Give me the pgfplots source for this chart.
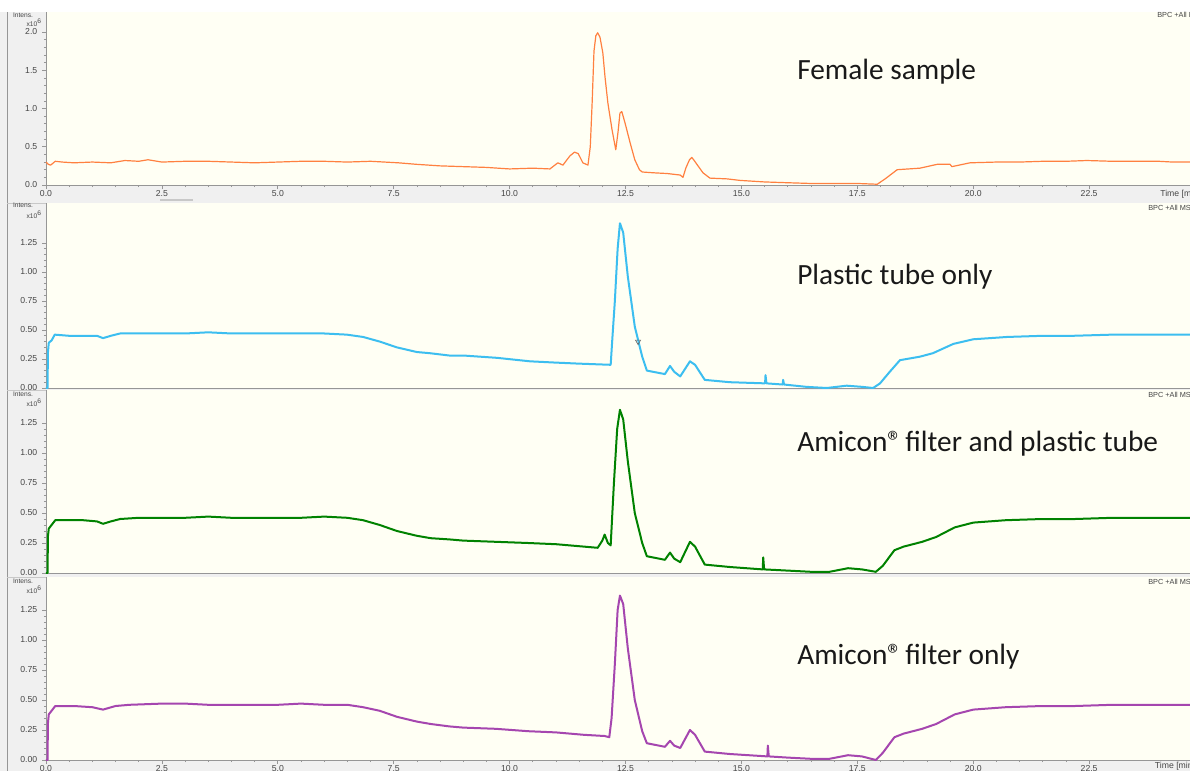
\documentclass[border=0pt]{standalone}
\usepackage{pgfplots}
\pgfplotsset{compat=1.18}
\usepackage{fontspec}
\setmainfont{Carlito}
\newfontfamily\tickfont{Liberation Sans}

\definecolor{cream}{RGB}{255,255,244}
\definecolor{margin}{RGB}{240,240,240}
\definecolor{axgray}{RGB}{150,150,150}
\definecolor{sepgray}{RGB}{200,200,200}
\definecolor{tickgray}{RGB}{70,70,70}
\definecolor{corange}{RGB}{255,128,64}
\definecolor{cblue}{RGB}{60,190,240}
\definecolor{cgreen}{RGB}{0,130,0}
\definecolor{cpurple}{RGB}{165,70,175}

\pgfplotsset{
  panel/.style={
    scale only axis, width=858pt, xmin=0, xmax=24.676, ymin=0,
    axis x line*=bottom, axis y line*=left,
    axis line style={draw=axgray, line width=0.6pt, -},
    axis background/.style={fill=cream},
    tick style={draw=axgray, line width=0.5pt},
    tick align=outside,
    major tick length=3pt, minor tick length=1.6pt,
    ticklabel style={font=\fontsize{6.5}{7}\selectfont\tickfont, text=tickgray},
    /pgf/number format/assume math mode=true,
    yticklabel style={/pgf/number format/fixed, /pgf/number format/fixed zerofill},
    xticklabel style={inner sep=0.8pt, /pgf/number format/fixed, /pgf/number format/fixed zerofill, /pgf/number format/precision=1},
    minor y tick num=4,
    anchor=south west,
  },
  small/.style={ytick={0,0.25,...,1.25}, yticklabel style={/pgf/number format/precision=2}, ymax=1.525},
}

\begin{document}
\begin{tikzpicture}
\useasboundingbox (0,0) rectangle (892.5pt,-578.25pt);
\clip (0,0) rectangle (892.5pt,-578.25pt);
\fill[white] (0,0) rectangle (892.5pt,-578.25pt);
\fill[margin] (0,-9pt) rectangle (892.5pt,-578.25pt);
\draw[axgray, line width=0.5pt] (5.6pt,-9pt) -- (5.6pt,-578.25pt);
\draw[sepgray, line width=0.6pt] (5.6pt,-152.25pt) -- (892.5pt,-152.25pt);
\draw[sepgray, line width=0.6pt] (5.6pt,-292.5pt) -- (892.5pt,-292.5pt);
\draw[sepgray, line width=0.6pt] (5.6pt,-432.75pt) -- (892.5pt,-432.75pt);
\draw[sepgray, line width=1.2pt] (120pt,-150pt) -- (145pt,-150pt);

% Panel 1: Female sample
\begin{axis}[panel, at={(34.5pt,-138.75pt)}, height=129.75pt, ymax=2.2614,
  ytick={0,0.5,...,2}, yticklabel style={/pgf/number format/precision=1},
  xtick={0,2.5,...,22.5}, minor x tick num=4]
\addplot[corange, line width=0.9pt, line join=round] table {
0.00 0.30
0.05 0.27
0.10 0.26
0.20 0.31
0.35 0.30
0.60 0.29
1.00 0.30
1.40 0.29
1.70 0.32
2.00 0.31
2.20 0.33
2.50 0.30
3.00 0.31
3.50 0.31
4.00 0.30
4.50 0.29
5.00 0.30
5.50 0.31
6.00 0.31
6.50 0.30
7.00 0.31
7.30 0.30
7.60 0.29
8.00 0.27
8.50 0.25
9.00 0.24
9.50 0.23
10.00 0.21
10.50 0.22
10.87 0.21
11.04 0.29
11.15 0.26
11.30 0.38
11.40 0.43
11.48 0.41
11.58 0.29
11.69 0.26
11.74 0.50
11.78 1.07
11.82 1.75
11.86 1.95
11.90 1.99
11.95 1.93
12.01 1.73
12.06 1.40
12.12 1.07
12.21 0.72
12.29 0.46
12.34 0.70
12.38 0.94
12.42 0.96
12.49 0.81
12.60 0.55
12.70 0.33
12.80 0.20
12.86 0.17
13.09 0.16
13.40 0.15
13.68 0.13
13.74 0.10
13.80 0.22
13.88 0.33
13.93 0.36
13.97 0.33
14.04 0.27
14.17 0.16
14.32 0.09
14.69 0.08
14.97 0.06
15.50 0.04
15.98 0.03
16.50 0.02
17.00 0.02
17.50 0.02
17.93 0.01
18.10 0.08
18.36 0.20
18.85 0.22
19.22 0.27
19.50 0.27
19.54 0.24
19.93 0.29
20.50 0.30
21.00 0.30
21.50 0.31
22.00 0.31
22.45 0.32
23.00 0.31
23.50 0.31
24.00 0.31
24.30 0.30
24.70 0.30
};
\end{axis}

% Panel 2: Plastic tube only
\begin{axis}[panel, small, at={(34.5pt,-291pt)}, height=138.75pt, ymax=1.5948,
  xtick=\empty]
\addplot[cblue, line width=1.5pt, line join=round] table {
0.00 0.00
0.035 0.00
0.04 0.30
0.06 0.39
0.12 0.41
0.19 0.46
0.50 0.45
0.80 0.45
1.10 0.45
1.23 0.43
1.40 0.45
1.60 0.47
2.00 0.47
2.50 0.47
3.00 0.47
3.50 0.48
4.00 0.47
4.50 0.47
5.00 0.47
5.50 0.47
6.00 0.47
6.49 0.46
6.84 0.44
7.20 0.40
7.57 0.35
8.00 0.31
8.28 0.30
8.70 0.28
9.00 0.28
9.73 0.26
10.44 0.23
10.94 0.22
11.50 0.21
12.18 0.20
12.22 0.45
12.27 0.75
12.33 1.20
12.38 1.42
12.45 1.34
12.55 0.96
12.70 0.53
12.86 0.27
12.96 0.15
13.35 0.12
13.46 0.19
13.55 0.14
13.68 0.10
13.89 0.23
14.00 0.20
14.21 0.07
14.75 0.05
15.51 0.04
15.52 0.11
15.54 0.04
15.89 0.03
15.90 0.07
15.92 0.03
16.40 0.01
16.84 0.00
17.27 0.02
17.60 0.01
17.84 0.00
17.99 0.04
18.20 0.14
18.42 0.24
18.85 0.27
19.13 0.30
19.57 0.38
20.00 0.42
20.73 0.44
21.50 0.45
22.15 0.45
23.00 0.46
24.00 0.46
24.70 0.46
};
\addplot[only marks, mark=triangle, mark size=2.2pt, mark options={draw=black!60, fill=white, rotate=180, line width=0.5pt}] coordinates {(12.77,0.40)};
\end{axis}

% Panel 3: Amicon filter and plastic tube
\begin{axis}[panel, small, at={(34.5pt,-429.75pt)}, height=137.25pt,
  xtick=\empty]
\addplot[cgreen, line width=1.5pt, line join=round] table {
0.00 0.00
0.035 0.00
0.04 0.30
0.06 0.37
0.12 0.40
0.20 0.44
0.50 0.44
0.80 0.44
1.10 0.43
1.23 0.41
1.40 0.43
1.60 0.45
2.00 0.46
2.50 0.46
3.00 0.46
3.50 0.47
4.00 0.46
4.50 0.46
5.00 0.46
5.50 0.46
6.00 0.47
6.50 0.46
6.84 0.44
7.20 0.40
7.57 0.35
8.00 0.31
8.30 0.29
8.70 0.28
9.00 0.27
9.70 0.26
10.40 0.25
11.00 0.24
11.60 0.22
11.90 0.21
12.00 0.27
12.05 0.32
12.12 0.25
12.18 0.23
12.25 0.75
12.32 1.20
12.38 1.36
12.45 1.28
12.55 0.93
12.70 0.50
12.86 0.25
12.96 0.14
13.35 0.11
13.46 0.17
13.55 0.12
13.68 0.09
13.89 0.26
14.00 0.22
14.21 0.07
14.75 0.05
15.46 0.03
15.47 0.13
15.49 0.03
16.00 0.02
16.50 0.01
16.90 0.01
17.30 0.04
17.60 0.03
17.90 0.01
18.05 0.06
18.30 0.19
18.50 0.22
18.90 0.26
19.20 0.30
19.60 0.38
20.00 0.42
20.70 0.44
21.50 0.45
22.20 0.45
23.00 0.46
24.00 0.46
24.70 0.46
};
\end{axis}

% Panel 4: Amicon filter only
\begin{axis}[panel, small, at={(34.5pt,-570pt)}, height=137.25pt,
  xtick={0,2.5,...,22.5}, minor x tick num=4]
\addplot[cpurple, line width=1.5pt, line join=round] table {
0.00 0.00
0.035 0.00
0.04 0.30
0.06 0.38
0.12 0.41
0.20 0.45
0.60 0.45
1.00 0.44
1.23 0.42
1.50 0.45
1.80 0.46
2.50 0.47
3.00 0.47
3.50 0.46
4.00 0.46
5.00 0.46
5.50 0.47
6.00 0.46
6.50 0.46
6.84 0.44
7.20 0.41
7.57 0.36
8.00 0.32
8.30 0.30
8.70 0.28
9.00 0.27
9.70 0.26
10.40 0.24
11.00 0.23
11.60 0.21
12.05 0.20
12.15 0.19
12.20 0.35
12.27 0.80
12.33 1.25
12.38 1.37
12.45 1.30
12.55 0.93
12.70 0.50
12.86 0.24
12.96 0.14
13.35 0.11
13.46 0.16
13.55 0.12
13.68 0.10
13.89 0.25
14.00 0.21
14.21 0.07
14.75 0.05
15.56 0.03
15.57 0.12
15.59 0.03
16.00 0.02
16.50 0.01
16.90 0.01
17.30 0.04
17.60 0.03
17.90 0.00
18.05 0.06
18.30 0.19
18.50 0.22
18.90 0.26
19.20 0.30
19.60 0.38
20.00 0.42
20.70 0.44
21.50 0.45
22.20 0.45
23.00 0.46
24.00 0.46
24.70 0.46
};
\end{axis}

% Panel titles
\node[anchor=base west, inner sep=0pt, font=\fontsize{22}{26}\selectfont, text=black!90] at (597.75pt,-59.25pt) {Female sample};
\node[anchor=base west, inner sep=0pt, font=\fontsize{22}{26}\selectfont, text=black!90] at (597.75pt,-213pt) {Plastic tube only};
\node[anchor=base west, inner sep=0pt, font=\fontsize{22}{26}\selectfont, text=black!90] at (597.75pt,-338.25pt) {Amicon®\hspace{-0.12em} filter and plastic tube};
\node[anchor=base west, inner sep=0pt, font=\fontsize{22}{26}\selectfont, text=black!90] at (597.75pt,-498pt) {Amicon®\hspace{-0.12em} filter only};

% Intens. labels
\foreach \ya/\yb in {-11.25/-17.25, -153.75/-161.25, -295.5/-302.25, -435.75/-442.5}{
  \node[anchor=east, inner sep=0pt, font=\fontsize{5}{5}\selectfont\tickfont, text=tickgray] at (25pt,\ya pt) {Intens.};
  \node[anchor=east, inner sep=0pt, font=\fontsize{5}{5}\selectfont\tickfont, text=tickgray] at (31.5pt,\yb pt) {x10\textsuperscript{6}};
}
% BPC labels
\node[anchor=west, inner sep=0pt, font=\fontsize{5.5}{6}\selectfont\tickfont, text=tickgray] at (867.75pt,-11.25pt) {BPC +All MS};
\node[anchor=west, inner sep=0pt, font=\fontsize{5.5}{6}\selectfont\tickfont, text=tickgray] at (861pt,-156pt) {BPC +All MS};
\node[anchor=west, inner sep=0pt, font=\fontsize{5.5}{6}\selectfont\tickfont, text=tickgray] at (861pt,-296.25pt) {BPC +All MS};
\node[anchor=west, inner sep=0pt, font=\fontsize{5.5}{6}\selectfont\tickfont, text=tickgray] at (861pt,-436.5pt) {BPC +All MS};
% Time labels
\node[anchor=west, inner sep=0pt, font=\fontsize{6.5}{7}\selectfont\tickfont, text=tickgray] at (870pt,-145.5pt) {Time [min]};
\node[anchor=west, inner sep=0pt, font=\fontsize{6.5}{7}\selectfont\tickfont, text=tickgray] at (866pt,-575pt) {Time [min]};
\end{tikzpicture}
\end{document}
